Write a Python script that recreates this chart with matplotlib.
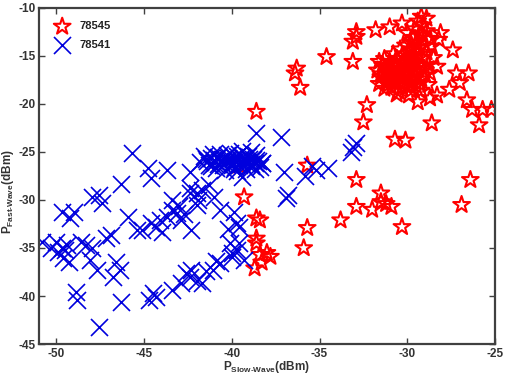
import numpy as np
import matplotlib.pyplot as plt

plt.rcParams['font.family'] = ['Liberation Sans', 'DejaVu Sans']
plt.rcParams['mathtext.fontset'] = 'custom'
plt.rcParams['mathtext.rm'] = 'Liberation Sans:bold'
plt.rcParams['mathtext.bf'] = 'Liberation Sans:bold'
plt.rcParams['axes.unicode_minus'] = False

# device 78545 (red stars)
red_x = [-31.7, -31.5, -31.4, -31.2, -31.1, -31.0, -30.9, -30.8, -30.7, -30.6,
         -30.5, -30.5, -30.4, -30.3, -30.2, -30.1, -30.0, -30.0, -29.9, -29.8,
         -29.8, -29.7, -29.6, -29.5, -29.5, -29.4, -29.3, -29.3, -29.2, -29.1,
         -29.1, -29.0, -29.0, -28.9, -28.9, -28.8, -29.6, -29.4, -29.7, -30.1,
         -30.4, -30.8, -31.3, -31.6, -30.6, -29.9, -29.2, -28.7, -28.6, -28.5,
         -30.3, -29.9, -30.7, -31.0, -29.5, -29.7, -30.2, -28.9, -29.2, -28.7,
         -30.0, -29.4, -30.9, -31.3, -28.8,
         -31.5, -31.2, -31.0, -30.8, -30.6, -30.4, -30.2, -30.0, -29.8, -29.6,
         -29.4, -29.2, -31.4, -31.1, -30.9, -30.7, -30.5, -30.3, -30.1, -29.9,
         -29.7, -29.5, -29.3, -29.0, -31.6, -30.0, -29.8, -29.6, -29.3, -29.1,
         -32.9, -33.1, -32.9, -31.8, -31.0, -30.3, -34.6, -33.1, -36.3, -36.4,
         -36.1, -38.6, -32.3, -32.5, -28.6, -30.7, -30.1, -35.7, -32.9, -31.5,
         -26.4, -28.2, -27.4, -28.3, -27.2, -26.5, -27.0, -27.6, -28.3, -29.4,
         -28.7, -26.6, -26.3, -25.7, -25.2, -25.9, -28.1, -31.5, -30.9, -32.0,
         -32.9, -33.8, -30.3, -26.9, -31.2, -35.7, -35.9, -38.6, -38.4, -38.0,
         -37.8, -38.7, -38.3, -39.3, -38.6, -38.4, -38.6, -39.6]
red_y = [-16.5, -17.2, -16.0, -17.8, -16.7, -15.6, -18.3, -17.1, -16.2, -15.3,
         -18.7, -17.6, -16.6, -15.8, -14.9, -18.1, -17.2, -16.1, -15.4, -14.4,
         -18.6, -17.5, -16.7, -15.7, -13.6, -14.8, -17.9, -12.7, -16.2, -15.2,
         -11.8, -13.9, -17.0, -14.6, -11.1, -15.9, -12.2, -11.4, -13.1, -13.9,
         -14.3, -14.8, -15.3, -15.6, -19.0, -19.1, -18.6, -16.8, -14.0, -15.2,
         -17.0, -16.5, -17.8, -16.9, -17.1, -15.0, -16.4, -12.4, -10.9, -13.2,
         -12.6, -16.5, -16.0, -18.4, -18.0,
         -16.9, -16.3, -17.5, -15.9, -16.9, -17.3, -15.6, -16.6, -17.9, -15.2,
         -16.0, -17.4, -15.9, -18.0, -17.6, -15.7, -16.3, -18.3, -16.8, -17.7,
         -16.4, -18.1, -14.2, -16.4, -17.9, -15.3, -13.7, -14.9, -14.1, -12.9,
         -13.0, -13.5, -12.5, -12.3, -12.0, -11.6, -15.1, -15.6, -16.3, -16.8,
         -18.3, -20.8, -20.1, -21.9, -22.0, -23.7, -23.8, -26.4, -27.9, -29.3,
         -27.9, -13.3, -14.4, -16.1, -16.8, -16.8, -17.8, -18.5, -19.1, -19.8,
         -19.4, -19.6, -20.6, -20.6, -20.6, -22.2, -12.6, -30.2, -30.7, -31.0,
         -30.7, -32.1, -32.8, -30.5, -30.4, -32.9, -35.0, -34.5, -35.7, -35.5,
         -35.9, -37.1, -36.5, -29.7, -31.9, -32.1, -34.0, -26.4]

# device 78541 (blue crosses)
blue_x = [-50.8, -50.0, -49.9, -49.6, -49.4, -49.7, -48.6, -48.3, -48.0, -48.1,
          -47.7, -47.2, -46.9, -46.6, -46.4, -46.8, -46.3, -48.9, -48.8, -47.6,
          -49.7, -49.0, -49.2, -48.0, -47.6, -47.4, -46.3, -45.7, -44.8, -44.6,
          -43.7, -42.4, -49.5, -50.3, -49.3,
          -45.9, -45.4, -45.1, -44.6, -44.3, -44.1, -43.7, -43.4, -43.1, -42.9,
          -43.4, -42.4, -42.0, -41.9, -42.3, -41.7, -41.0, -40.7, -41.3, -42.4,
          -42.0, -43.0, -44.0, -42.7,
          -44.5, -44.7, -44.3, -43.4, -42.9, -42.6, -42.4, -42.3, -42.0, -41.7,
          -41.5, -41.1, -40.7, -40.9, -40.1, -40.0, -40.0, -39.7, -39.3, -39.6,
          -39.6, -39.9, -39.7, -40.2,
          -41.6, -41.4, -41.2, -41.0, -40.8, -40.6, -40.5, -40.3, -40.2, -40.0,
          -39.9, -39.8, -39.6, -39.5, -39.4, -39.3, -39.2, -39.1, -39.0, -38.9,
          -38.8, -38.7, -38.6, -38.5, -38.4, -40.9, -40.4, -39.7, -41.3, -40.1,
          -39.4, -38.9, -41.8, -40.7, -39.9, -38.3, -40.4, -39.6, -41.1, -38.7,
          -41.5, -41.0, -40.6, -40.2, -39.8, -39.4, -39.0, -38.6, -40.8, -40.0,
          -39.2, -41.2, -40.5, -39.7, -38.9, -40.3,
          -39.4, -38.6, -37.2, -37.0, -36.9, -35.2, -34.5, -35.4, -33.1, -32.9,
          -33.2, -38.3, -36.8, -35.8]
blue_y = [-34.4, -34.4, -35.4, -36.0, -34.7, -35.0, -34.4, -34.7, -35.0, -36.2,
          -37.3, -34.0, -33.6, -36.5, -37.3, -38.0, -40.6, -39.6, -40.4, -43.2,
          -31.3, -31.3, -31.9, -29.7, -29.5, -30.3, -28.3, -25.1, -26.7, -27.7,
          -26.9, -27.1, -35.2, -35.0, -36.5,
          -31.8, -33.1, -33.1, -32.4, -32.8, -32.1, -31.8, -31.0, -31.4, -32.1,
          -30.0, -29.3, -29.3, -30.0, -33.1, -29.0, -29.7, -31.0, -28.4, -28.8,
          -30.5, -30.6, -33.3, -31.5,
          -39.7, -40.4, -40.1, -39.4, -38.6, -37.6, -38.0, -37.3, -38.4, -38.6,
          -37.4, -37.3, -36.6, -36.4, -34.5, -35.9, -35.5, -35.2, -36.2, -34.5,
          -32.8, -31.3, -32.4, -33.0,
          -25.4, -25.9, -25.6, -26.2, -25.5, -25.9, -26.4, -25.3, -25.8, -26.1,
          -25.5, -26.6, -25.2, -25.9, -26.3, -25.6, -26.8, -25.4, -26.0, -26.5,
          -25.7, -26.2, -25.3, -25.9, -26.6, -26.7, -26.9, -27.0, -26.4, -25.1,
          -24.9, -25.0, -26.0, -25.2, -26.8, -26.1, -26.2, -26.4, -25.2, -26.8,
          -25.7, -25.8, -26.0, -25.6, -25.9, -25.5, -25.7, -25.8, -26.3, -26.4,
          -26.1, -26.5, -25.7, -25.4, -26.3, -25.9,
          -27.6, -23.0, -23.4, -27.1, -29.8, -26.9, -26.7, -26.5, -24.5, -24.1,
          -25.0, -26.1, -29.5, -27.5]

x_ticks = [-50, -45, -40, -35, -30, -25]
y_ticks = [-45, -40, -35, -30, -25, -20, -15, -10]

fig = plt.figure(figsize=(5.05, 3.76), dpi=100)
ax = fig.add_axes([0.077, 0.085, 0.903, 0.894])

ax.scatter(red_x, red_y, marker='*', s=160, facecolors='none',
           edgecolors='#ff0000', linewidths=1.5, label='78545')
ax.scatter(blue_x, blue_y, marker='x', s=150, color='#0000dd',
           linewidths=1.2, label='78541')

ax.set_xlim(-51, -25)
ax.set_ylim(-45, -10)
ax.set_xticks(x_ticks)
ax.set_yticks(y_ticks)

grey = '#404040'
for sp in ax.spines.values():
    sp.set_color(grey)
    sp.set_linewidth(1.6)
ax.tick_params(direction='in', top=True, right=True, length=4, width=1,
               color=grey, labelcolor='#333333', labelsize=8.5, pad=2.5)
for lab in ax.get_xticklabels() + ax.get_yticklabels():
    lab.set_fontweight('bold')

ax.set_xlabel(r'$\mathrm{P}_{\mathrm{Slow\text{-}Wave}}$(dBm)', fontsize=8.5,
              fontweight='bold', color='#333333')
ax.set_ylabel(r'$\mathrm{P}_{\mathrm{Fast\text{-}Wave}}$(dBm)', fontsize=8.5,
              fontweight='bold', color='#333333')
ax.xaxis.set_label_coords(0.5, -0.045)
ax.yaxis.set_label_coords(-0.05, 0.455)

leg = ax.legend(loc='upper left', bbox_to_anchor=(0.017, 0.973),
                borderaxespad=0, frameon=False, fontsize=8,
                handletextpad=0.6, labelspacing=0.75, handlelength=2.0)
for t in leg.get_texts():
    t.set_fontweight('bold')
    t.set_color('#222222')

fig.savefig('out.png', dpi=100)
